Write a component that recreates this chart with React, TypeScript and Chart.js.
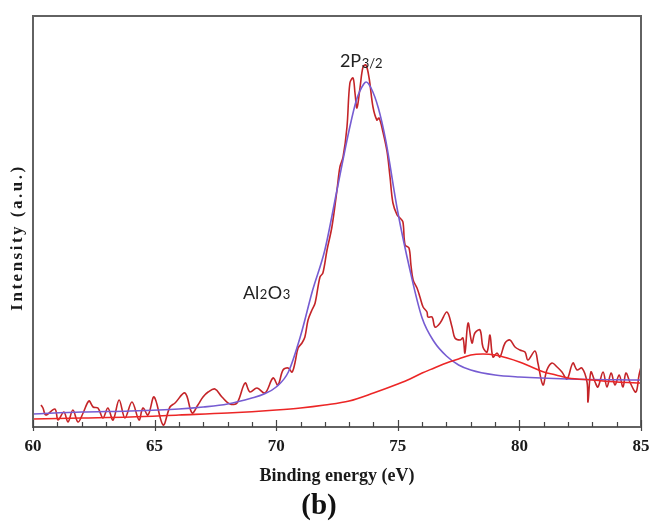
import React, { useEffect, useRef } from 'react';
import { Chart, registerables } from 'chart.js';

Chart.register(...registerables);

// Measured XPS spectrum (noisy trace)
const measuredEnergy = [
  60.33, 60.41, 60.53, 60.9, 61.03, 61.27, 61.44, 61.64, 61.85, 62.06, 62.3, 62.47, 62.67, 62.88,
  63.08, 63.29, 63.54, 63.78, 64.07, 64.36, 64.52, 64.73, 64.98, 65.35, 65.63, 65.84, 66.25, 66.54,
  66.78, 66.99, 67.2, 67.48, 67.77, 68.1, 68.39, 68.72, 68.92, 69.21, 69.54, 69.87, 70.07, 70.28,
  70.49, 70.65, 70.77, 70.9, 71.06, 71.18, 71.31, 71.47, 71.6, 71.8, 71.92, 72.09, 72.29, 72.5,
  72.62, 72.75, 72.91, 73.03, 73.16, 73.24, 73.32, 73.45, 73.57, 73.69, 73.82, 73.98, 74.14, 74.23,
  74.39, 74.56, 74.68, 74.8, 74.97, 75.09, 75.21, 75.3, 75.46, 75.54, 75.63, 75.79, 75.91, 76.04,
  76.2, 76.24, 76.41, 76.53, 76.74, 77.02, 77.23, 77.35, 77.56, 77.68, 77.76, 77.89, 78.05, 78.17,
  78.38, 78.5, 78.67, 78.79, 78.91, 79.08, 79.2, 79.41, 79.61, 79.82, 80.02, 80.23, 80.35, 80.64,
  80.76, 80.97, 81.13, 81.34, 81.55, 81.75, 81.96, 82.2, 82.37, 82.57, 82.78, 82.82, 82.94, 83.11,
  83.23, 83.44, 83.6, 83.77, 83.93, 84.1, 84.26, 84.38, 84.56, 84.79, 84.92, 85.0,
];
const measuredIntensity = [
  22, 19, 12, 18, 7, 15, 5, 17, 5, 14, 26, 20, 19, 9,
  19, 7, 27, 9, 25, 7, 19, 12, 30, 2, 20, 24, 34, 14,
  22, 30, 35, 38, 30, 23, 24, 44, 35, 39, 34, 49, 42, 57,
  59, 55, 64, 79, 84, 90, 107, 117, 124, 150, 154, 177, 200, 237,
  260, 270, 300, 344, 349, 334, 319, 340, 360, 362, 349, 320, 307, 309,
  295, 275, 250, 224, 212, 209, 205, 182, 179, 162, 147, 139, 130, 120,
  115, 110, 110, 100, 104, 115, 100, 89, 87, 89, 74, 104, 84, 94,
  97, 80, 75, 92, 70, 74, 70, 84, 87, 80, 77, 75, 67, 76,
  64, 42, 57, 64, 60, 55, 48, 64, 57, 59, 45, 25, 55, 45,
  40, 55, 40, 54, 42, 52, 40, 54, 44, 35, 52, 60,
];

// Fitted Al 2p3/2 component (purple)
const fitEnergy = [
  60, 62, 64, 66, 67, 68, 69, 69.5, 70, 70.5, 71, 71.5, 72, 72.5, 73, 73.3, 73.6, 73.7, 73.9,
  74.2, 74.5, 75, 75.5, 76, 76.5, 77, 77.5, 78, 79, 80, 82, 85,
];
const fitIntensity = [
  13, 15, 16, 18, 20, 23, 29, 33, 40, 55, 91, 137, 177, 237, 297, 327, 343, 345, 339,
  319, 287, 215, 157, 109, 85, 71, 62, 57, 52, 50, 48, 47,
];

// Background / satellite component (red)
const backgroundEnergy = [
  60, 62, 64, 66, 68, 70, 71, 72, 73, 74, 75, 75.5, 76, 76.5, 77, 77.5, 78, 78.5, 79, 79.5,
  80, 80.5, 81, 81.5, 82, 83, 84, 85,
];
const backgroundIntensity = [
  8, 9, 10, 12, 14, 17, 19, 22, 26, 34, 43, 48, 54, 59, 64, 68, 72, 73, 72, 69,
  65, 60, 55, 52, 49, 47, 45, 44,
];

const xMin = 60;
const xMax = 85;
const xTickLabels = [60, 65, 70, 75, 80, 85];
const xAxisTitle = 'Binding energy (eV)';
const yAxisTitle = 'Intensity (a.u.)';
const panelLabel = '(b)';

// Peak annotations anchored in data coordinates
const annotations = [
  { x: 72.62, y: 360, parts: [{ t: '2P', sub: false }, { t: '3/2', sub: true }] },
  {
    x: 68.63,
    y: 128,
    parts: [
      { t: 'Al', sub: false },
      { t: '2', sub: true },
      { t: 'O', sub: false },
      { t: '3', sub: true },
    ],
  },
];

const toPoints = (xs: number[], ys: number[]) => xs.map((x, i) => ({ x, y: ys[i] }));

const decorPlugin = {
  id: 'decor',
  afterDatasetsDraw(chart: any) {
    const { ctx, chartArea: a, scales } = chart;
    const xs = scales.x;
    const ys = scales.y;
    ctx.save();
    // frame
    ctx.strokeStyle = '#626262';
    ctx.lineWidth = 2;
    ctx.strokeRect(a.left, a.top, a.right - a.left, a.bottom - a.top);
    // inward ticks
    ctx.lineWidth = 1.2;
    ctx.strokeStyle = '#444';
    xs.ticks.forEach((t: any) => {
      const px = Math.round(xs.getPixelForValue(t.value)) + 0.5;
      const major = xTickLabels.includes(t.value);
      ctx.beginPath();
      ctx.moveTo(px, a.bottom + (major ? 4 : 0));
      ctx.lineTo(px, a.bottom - (major ? 7 : 5));
      ctx.stroke();
    });
    // y title
    ctx.save();
    ctx.translate(a.left - 15.5, (a.top + a.bottom) / 2 + 16);
    ctx.rotate(-Math.PI / 2);
    ctx.font = 'bold 17px "Liberation Serif"';
    (ctx as any).letterSpacing = '2.5px';
    ctx.fillStyle = '#1a1a1a';
    ctx.textAlign = 'center';
    ctx.textBaseline = 'middle';
    ctx.fillText(yAxisTitle, 0, 0);
    ctx.restore();
    // panel label
    ctx.save();
    ctx.font = 'bold 29px "Liberation Serif"';
    ctx.fillStyle = '#111';
    ctx.textAlign = 'center';
    ctx.textBaseline = 'middle';
    ctx.fillText(panelLabel, a.left + 286, a.bottom + 80);
    ctx.restore();
    // annotations
    ctx.fillStyle = '#222';
    ctx.textBaseline = 'alphabetic';
    ctx.textAlign = 'left';
    annotations.forEach((an) => {
      let px = xs.getPixelForValue(an.x);
      const py = ys.getPixelForValue(an.y);
      an.parts.forEach((p) => {
        ctx.font = p.sub ? '13px Lato' : '18px Lato';
        ctx.fillText(p.t, px, py + (p.sub && an.parts.length === 2 ? 1 : 0));
        px += ctx.measureText(p.t).width + 0.5;
      });
    });
    ctx.restore();
  },
};

export default function App() {
  const ref = useRef<HTMLCanvasElement | null>(null);

  useEffect(() => {
    if (!ref.current) return;
    const chart = new Chart(ref.current, {
      type: 'line',
      data: {
        datasets: [
          {
            label: 'Background',
            data: toPoints(backgroundEnergy, backgroundIntensity),
            borderColor: 'rgb(236, 38, 38)',
            borderWidth: 1.6,
            pointRadius: 0,
            cubicInterpolationMode: 'monotone',
            order: 1,
          },
          {
            label: 'Fit',
            data: toPoints(fitEnergy, fitIntensity),
            borderColor: 'rgb(118, 92, 210)',
            borderWidth: 1.6,
            pointRadius: 0,
            cubicInterpolationMode: 'monotone',
            order: 2,
          },
          {
            label: 'Measured',
            data: toPoints(measuredEnergy, measuredIntensity),
            borderColor: 'rgb(196, 36, 40)',
            borderWidth: 1.6,
            pointRadius: 0,
            tension: 0.35,
            order: 3,
          },
        ],
      },
      options: {
        animation: false,
        responsive: false,
        layout: { padding: { left: 33, right: 10, top: 16, bottom: 40 } },
        plugins: {
          legend: { display: false },
          tooltip: { enabled: false },
        },
        scales: {
          x: {
            type: 'linear',
            min: xMin,
            max: xMax,
            afterFit: (s: any) => {
              s.paddingLeft = 0;
              s.paddingRight = 0;
            },
            grid: { display: false, drawTicks: false },
            border: { display: false },
            ticks: {
              stepSize: 1,
              autoSkip: false,
              maxRotation: 0,
              padding: 9,
              color: '#1a1a1a',
              font: { family: '"Liberation Serif"', size: 17, weight: 'bold' },
              callback: (v: any) => (xTickLabels.includes(Number(v)) ? String(v) : ''),
            },
            title: {
              display: true,
              text: xAxisTitle,
              color: '#1a1a1a',
              font: { family: '"Liberation Serif"', size: 18, weight: 'bold' },
              padding: { top: 0, bottom: 0 },
            },
          },
          y: {
            display: false,
            min: 0,
            max: 411,
          },
        },
      },
      plugins: [decorPlugin],
    });
    return () => chart.destroy();
  }, []);

  return (
    <div style={{ position: 'fixed', left: 0, top: 0, width: 651, height: 527, background: '#fff' }}>
      <canvas ref={ref} width={651} height={527} style={{ display: 'block' }} />
    </div>
  );
}
